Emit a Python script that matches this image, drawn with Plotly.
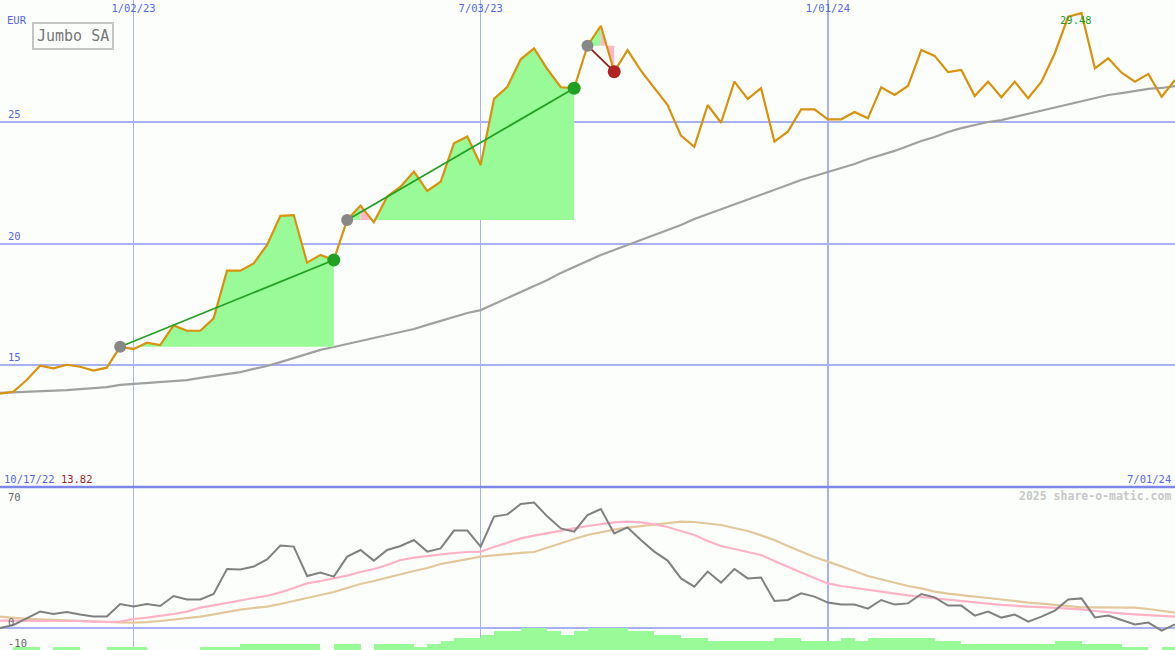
import plotly.graph_objects as go

# ---------------- data (weekly, index 0 = 10/17/22 ... 88 = 7/01/24) ----------------
price = [13.82, 13.90, 14.38, 14.97, 14.86, 15.01, 14.93, 14.77, 14.89, 15.75,
         15.65, 15.92, 15.82, 16.63, 16.41, 16.41, 16.92, 18.88, 18.88, 19.18,
         19.94, 21.14, 21.17, 19.21, 19.53, 19.32, 20.97, 21.56, 20.87, 21.93,
         22.34, 22.96, 22.16, 22.54, 24.12, 24.40, 23.23, 25.95, 26.45, 27.58,
         28.03, 27.17, 26.43, 26.39, 28.14, 28.96, 27.07, 27.96, 27.11, 26.39,
         25.70, 24.44, 23.98, 25.70, 24.97, 26.66, 25.95, 26.39, 24.19, 24.60,
         25.52, 25.52, 25.11, 25.11, 25.41, 25.15, 26.43, 26.11, 26.48, 27.96,
         27.72, 27.05, 27.14, 26.07, 26.66, 26.02, 26.66, 25.98, 26.66, 27.83,
         29.33, 29.48, 27.21, 27.62, 27.03, 26.66, 26.98, 26.04, 26.73]

price_ma = [13.85, 13.87, 13.89, 13.91, 13.93, 13.97, 14.01, 14.05, 14.09, 14.18,
            14.22, 14.26, 14.30, 14.34, 14.38, 14.47, 14.55, 14.63, 14.71, 14.84,
            14.96, 15.12, 15.29, 15.45, 15.62, 15.74, 15.86, 15.99, 16.11, 16.23,
            16.36, 16.48, 16.65, 16.81, 16.98, 17.14, 17.26, 17.51, 17.76, 18.00,
            18.25, 18.50, 18.79, 19.03, 19.28, 19.53, 19.73, 19.94, 20.14, 20.35,
            20.56, 20.76, 21.01, 21.21, 21.42, 21.63, 21.83, 22.04, 22.24, 22.41,
            22.61, 22.78, 22.94, 23.11, 23.27, 23.48, 23.64, 23.81, 24.01, 24.22,
            24.38, 24.59, 24.75, 24.88, 25.00, 25.08, 25.21, 25.33, 25.45, 25.58,
            25.70, 25.86, 25.99, 26.11, 26.19, 26.28, 26.36, 26.40, 26.48]

oscillator = [0.0, 1.5, 4.8, 8.2, 7.0, 8.0, 6.7, 5.7, 5.7, 12.0,
              10.7, 12.0, 11.0, 16.0, 14.3, 14.3, 17.0, 29.5, 29.3, 30.7,
              34.3, 41.2, 40.7, 26.0, 27.7, 25.7, 35.7, 39.0, 33.7, 39.0,
              41.0, 44.0, 38.2, 39.8, 48.7, 48.7, 40.7, 55.7, 56.8, 62.0,
              62.7, 55.7, 49.8, 48.2, 56.5, 59.5, 47.3, 50.3, 44.0, 38.2,
              33.7, 24.8, 20.7, 28.2, 22.7, 29.5, 24.8, 25.2, 13.5, 14.0,
              17.3, 15.7, 12.7, 11.7, 11.7, 9.7, 14.0, 11.7, 12.3, 17.0,
              15.3, 11.2, 11.2, 6.2, 8.2, 5.2, 6.7, 3.2, 5.7, 8.7,
              14.3, 14.8, 5.3, 6.2, 4.0, 1.8, 2.7, -1.3, 1.8]

osc_fast = [3.7, 3.7, 3.7, 3.7, 3.6, 3.5, 3.5, 3.2, 3.0, 3.2,
            4.5, 5.2, 6.0, 7.0, 8.2, 10.2, 11.3, 12.6, 13.8, 15.0,
            16.0, 17.8, 20.0, 22.3, 23.5, 24.8, 26.2, 28.0, 29.5, 31.5,
            34.0, 35.2, 36.0, 37.0, 37.5, 38.0, 38.2, 40.5, 42.8, 44.8,
            46.2, 47.5, 48.5, 49.8, 51.0, 51.8, 52.8, 53.2, 52.8, 51.8,
            50.5, 48.5, 46.5, 43.5, 41.0, 39.5, 38.0, 36.5, 33.5, 30.5,
            27.7, 25.0, 22.3, 21.0, 20.0, 19.0, 18.0, 17.0, 16.3, 15.5,
            14.8, 14.2, 13.3, 12.7, 12.2, 11.6, 11.0, 10.7, 10.4, 10.1,
            9.8, 9.3, 8.5, 7.8, 7.3, 6.8, 6.4, 6.0, 5.7]

osc_slow = [5.7, 5.0, 4.6, 4.3, 4.0, 3.7, 3.4, 3.2, 3.0, 2.8,
            2.7, 2.9, 3.5, 4.2, 5.0, 5.7, 6.8, 8.0, 9.2, 10.0,
            10.7, 12.0, 13.5, 15.0, 16.5, 18.0, 20.0, 22.0, 23.5, 25.2,
            27.0, 28.5, 30.0, 32.0, 33.2, 34.5, 35.7, 36.3, 37.0, 37.6,
            38.0, 40.2, 42.5, 44.5, 46.5, 48.0, 49.2, 50.2, 51.0, 51.8,
            52.5, 53.2, 53.0, 52.2, 51.5, 50.0, 48.5, 46.3, 44.0, 41.0,
            38.2, 35.5, 33.2, 31.0, 28.5, 26.0, 24.3, 22.5, 21.0, 19.8,
            18.2, 17.2, 16.3, 15.7, 15.0, 14.2, 13.3, 12.7, 12.2, 11.5,
            10.8, 10.3, 10.3, 10.3, 10.3, 10.2, 9.5, 8.5, 7.7]

volume_level = [None, -9.65, -9.65, None, -9.65, -9.65, None, None, -9.65, -9.65,
                -9.65, None, None, None, None, -9.65, -9.65, -9.65, -7.85, -7.85,
                -7.85, -7.85, -7.85, -7.85, None, -7.85, -7.85, None, -7.85, -7.85,
                -7.85, -9.5, -7.85, -6.5, -4.8, -4.8, -3.3, -1.5, -1.5, 0.0,
                0.0, -1.5, -3.3, -1.5, 0.0, 0.0, 0.0, -1.5, -1.5, -3.3,
                -3.3, -4.8, -4.8, -6.5, -6.5, -6.5, -6.5, -6.5, -4.8, -4.8,
                -6.5, -6.5, -6.5, -4.8, -6.5, -4.8, -4.8, -4.8, -4.8, -4.8,
                -6.5, -6.5, -7.85, -7.85, -7.85, -7.85, -7.85, -7.85, -7.85, -6.5,
                -6.5, -7.85, -7.85, -7.85, -9.65, -9.65, None, -9.65, None]

# trades: (start index, end index, result)
trades = [(9, 25, "win"), (26, 43, "win"), (44, 46, "loss")]

grid_idx = [10, 36, 62]
grid_labels = ["1/02/23", "7/03/23", "1/01/24"]
first_date, first_price = "10/17/22", "13.82"
last_date = "7/01/24"
title = "Jumbo SA"
currency = "EUR"
peak_label = "29.48"

# ---------------- styles ----------------
BG = "#fcfefc"
GRID = "#a6b2f2"
BLUE_TXT = "#5566ee"
FONT = "DejaVu Sans Mono"
GREEN_FILL = "#98fb98"
PINK_FILL = "#ffb6c8"

idx = list(range(len(price)))
fig = go.Figure()

# moving average of price
fig.add_trace(go.Scatter(x=idx, y=price_ma, mode="lines",
                         line=dict(color="#a0a0a0", width=2.2), xaxis="x", yaxis="y",
                         hoverinfo="skip"))

# trade fills (column polygons between price and entry level)
gx, gy, px_, py_ = [], [], [], []
for s, e, res in trades:
    base = price[s]
    for i in range(s, e):
        xs = [i, i, i + 1, i + 1, i]
        ys = [base, price[i], price[i + 1], base, base]
        if price[i + 1] >= base:
            gx += xs + [None]; gy += ys + [None]
        else:
            px_ += xs + [None]; py_ += ys + [None]
fig.add_trace(go.Scatter(x=gx, y=gy, mode="none", fill="toself", fillcolor=GREEN_FILL,
                         xaxis="x", yaxis="y", hoverinfo="skip"))
fig.add_trace(go.Scatter(x=px_, y=py_, mode="none", fill="toself", fillcolor=PINK_FILL,
                         xaxis="x", yaxis="y", hoverinfo="skip"))

# price line
fig.add_trace(go.Scatter(x=idx, y=price, mode="lines",
                         line=dict(color="#d8920c", width=2.2), xaxis="x", yaxis="y"))

# trade lines and dots
for s, e, res in trades:
    lc = "#22a022" if res == "win" else "#901c1c"
    dc = "#22a022" if res == "win" else "#b02222"
    fig.add_trace(go.Scatter(x=[s, e], y=[price[s], price[e]], mode="lines",
                             line=dict(color=lc, width=1.8), xaxis="x", yaxis="y"))
    fig.add_trace(go.Scatter(x=[s], y=[price[s]], mode="markers",
                             marker=dict(color="#888888", size=12), xaxis="x", yaxis="y"))
    fig.add_trace(go.Scatter(x=[e], y=[price[e]], mode="markers",
                             marker=dict(color=dc, size=13), xaxis="x", yaxis="y"))

# lower panel
bar_h = [None if v is None else v - (-11) for v in volume_level]
fig.add_trace(go.Bar(x=idx, y=bar_h, base=-11, offset=0, width=1,
                     marker=dict(color=GREEN_FILL, line=dict(width=0)),
                     xaxis="x2", yaxis="y2"))
fig.add_trace(go.Scatter(x=idx, y=osc_slow, mode="lines",
                         line=dict(color="#e2c89a", width=2.2), xaxis="x2", yaxis="y2"))
fig.add_trace(go.Scatter(x=idx, y=osc_fast, mode="lines",
                         line=dict(color="#ffb2c6", width=2.2), xaxis="x2", yaxis="y2"))
fig.add_trace(go.Scatter(x=idx, y=oscillator, mode="lines",
                         line=dict(color="#808080", width=2), xaxis="x2", yaxis="y2"))

split = 163 / 650
fig.update_layout(
    width=1175, height=650,
    margin=dict(l=0, r=0, t=0, b=0),
    paper_bgcolor=BG, plot_bgcolor=BG,
    showlegend=False, bargap=0, hovermode=False,
    font=dict(family=FONT, size=10, color=BLUE_TXT),
    xaxis=dict(domain=[0, 1], range=[0, 88], anchor="y", side="top",
               tickvals=grid_idx, ticktext=grid_labels, ticklabelposition="inside",
               ticklabelstandoff=2,
               ticks="", showgrid=True, gridcolor=GRID, gridwidth=1.5,
               zeroline=False, showline=False,
               tickfont=dict(family=FONT, size=10.5, color=BLUE_TXT)),
    yaxis=dict(domain=[split, 1], range=[9.98, 30.02], anchor="x",
               tickvals=[15, 20, 25], ticklabelposition="inside top", ticks="",
               ticklabelstandoff=5,
               showgrid=True, gridcolor=GRID, gridwidth=2, zeroline=False,
               tickfont=dict(family=FONT, size=10.5, color=BLUE_TXT)),
    xaxis2=dict(domain=[0, 1], range=[0, 88], anchor="y2", tickvals=grid_idx,
                showticklabels=False, ticks="", showgrid=True, gridcolor=GRID,
                gridwidth=1.5, zeroline=False),
    yaxis2=dict(domain=[0, split], range=[-11, 70.5], anchor="x2",
                showticklabels=False, ticks="", showgrid=False,
                zeroline=True, zerolinecolor=GRID, zerolinewidth=2),
)

# separator between panels
fig.add_shape(type="line", xref="paper", yref="paper", x0=0, x1=1, y0=split, y1=split,
              line=dict(color="#7b88ea", width=2.5))

ann = []
ann.append(dict(text=currency, x=5, y=20, xanchor="left", yanchor="middle",
                font=dict(color=BLUE_TXT, size=10.5)))
ann.append(dict(text=title, x=73, y=36, xanchor="center", yanchor="middle",
                font=dict(color="#777777", size=15), bordercolor="#c4c4c4",
                borderwidth=2, borderpad=3, bgcolor=BG))
ann.append(dict(text=f'{first_date} <span style="color:#a01c1c">{first_price}</span>',
                x=2, y=479, xanchor="left", yanchor="middle",
                font=dict(color=BLUE_TXT, size=10.5)))
ann.append(dict(text=last_date, x=1173, y=479, xanchor="right", yanchor="middle",
                font=dict(color=BLUE_TXT, size=10.5)))
ann.append(dict(text="<b>2025 share-o-matic.com</b>", x=1173, y=496, xanchor="right",
                yanchor="middle", font=dict(color="#c8c8c8", size=11.5)))
ann.append(dict(text="70", x=6, y=496.5, xanchor="left", yanchor="middle",
                font=dict(color="#666666", size=10.5)))
ann.append(dict(text="0", x=6, y=622, xanchor="left", yanchor="middle",
                font=dict(color="#666666", size=10.5)))
ann.append(dict(text="-10", x=6, y=642.5, xanchor="left", yanchor="middle",
                font=dict(color="#666666", size=10.5)))
for a in ann:
    a.update(xref="paper", yref="paper", showarrow=False)
    a["x"] = a["x"] / 1175
    a["y"] = 1 - a["y"] / 650
    fig.add_annotation(**a)

pk = price.index(max(price))
fig.add_annotation(text=peak_label, x=pk, y=price[pk], xref="x", yref="y",
                   showarrow=False, xshift=-6, yshift=-7,
                   font=dict(color="#22a022", size=10.5, family=FONT))

fig.write_html("out.html", config={"displayModeBar": False, "staticPlot": True},
               post_script="document.body.style.margin='0px';"
                           "document.body.style.overflow='hidden';")
